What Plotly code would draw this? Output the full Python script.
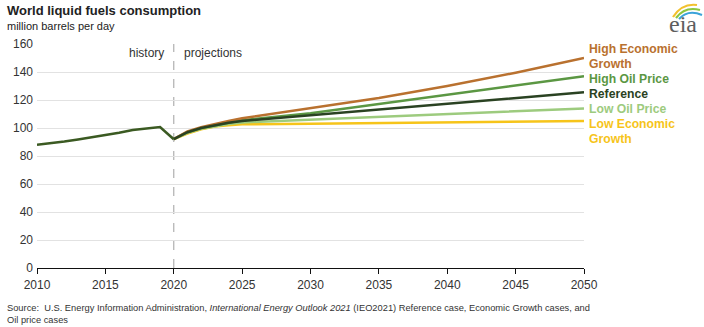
import plotly.graph_objects as go

# History (2010-2020), million barrels per day
hist_years = [2010, 2011, 2012, 2013, 2014, 2015, 2016, 2017, 2018, 2019, 2020]
hist_values = [88.0, 89.0, 90.3, 91.8, 93.3, 95.0, 96.6, 98.6, 99.7, 100.7, 92.0]

# Projection cases (2020-2050)
proj_years = [2020, 2021, 2022, 2023, 2024, 2025, 2030, 2035, 2040, 2045, 2050]
high_econ = [92.0, 97.5, 100.5, 103.0, 105.0, 107.0, 114.0, 121.5, 130.0, 139.5, 150.0]
high_oil = [92.0, 97.0, 100.0, 102.0, 104.0, 105.5, 110.5, 117.0, 123.5, 130.0, 137.0]
reference = [92.0, 97.0, 100.0, 102.0, 103.7, 105.0, 109.0, 113.0, 117.2, 121.3, 125.5]
low_oil = [92.0, 96.5, 99.5, 101.3, 102.8, 104.0, 106.0, 108.0, 110.0, 112.0, 114.0]
low_econ = [92.0, 96.0, 99.0, 101.0, 102.0, 102.6, 103.0, 103.5, 104.0, 104.5, 105.0]

series_names = ["Low Economic Growth", "Low Oil Price", "High Oil Price",
                "High Economic Growth", "Reference"]
series_values = [low_econ, low_oil, high_oil, high_econ, reference]
series_colors = ["#F6C41A", "#9DCB7E", "#5B9743", "#B9712F", "#2A4222"]

legend_lines = [
    ("High Economic", "#B9712F"),
    ("Growth", "#B9712F"),
    ("High Oil Price", "#5B9743"),
    ("Reference", "#2A4222"),
    ("Low Oil Price", "#9DCB7E"),
    ("Low Economic", "#F6C41A"),
    ("Growth", "#F6C41A"),
]

y_ticks = [0, 20, 40, 60, 80, 100, 120, 140, 160]
x_ticks = [2010, 2015, 2020, 2025, 2030, 2035, 2040, 2045, 2050]

W, H = 704, 327
ML, MR, MT, MB = 37, 120, 44, 59
PW, PH = W - ML - MR, H - MT - MB


def px(x):
    return (x - ML) / PW


def py(y):
    return (H - MB - y) / PH


FONT = "Liberation Sans, Arial, sans-serif"

fig = go.Figure()

for name, vals, col in zip(series_names, series_values, series_colors):
    fig.add_trace(go.Scatter(x=proj_years, y=vals, mode="lines", name=name,
                             line=dict(color=col, width=2.5), hoverinfo="skip"))

fig.add_trace(go.Scatter(x=hist_years, y=hist_values, mode="lines", name="History",
                         line=dict(color="#3B5A22", width=2.6), hoverinfo="skip"))

shapes = [
    dict(type="line", xref="x", yref="y", x0=2020, x1=2020, y0=0, y1=160,
         line=dict(color="#B0B0B0", width=1.2, dash="dash"), layer="below"),
]

# eia logo swooshes
logo_arcs = [
    ("#F2C12E", 673, 17, 682, 3, 697, 5),
    ("#8CC63F", 676, 18, 685, 6, 700, 10),
    ("#3AA3D9", 679, 19, 688, 9, 702, 15),
]
for col, x0, y0, cx, cy, x1, y1 in logo_arcs:
    shapes.append(dict(type="path", xref="paper", yref="paper",
                       path=f"M {px(x0)},{py(y0)} Q {px(cx)},{py(cy)} {px(x1)},{py(y1)}",
                       line=dict(color=col, width=2.2)))

annotations = [
    dict(text="<b>World liquid fuels consumption</b>", xref="paper", yref="paper",
         x=px(5), y=py(11), xanchor="left", yanchor="middle", showarrow=False,
         font=dict(family=FONT, size=13, color="#222222")),
    dict(text="million barrels per day", xref="paper", yref="paper",
         x=px(5), y=py(26), xanchor="left", yanchor="middle", showarrow=False,
         font=dict(family=FONT, size=11, color="#222222")),
    dict(text="history", xref="x", yref="paper", x=2019.4, y=py(53),
         xanchor="right", yanchor="middle", showarrow=False,
         font=dict(family=FONT, size=12, color="#333333")),
    dict(text="projections", xref="x", yref="paper", x=2020.6, y=py(53),
         xanchor="left", yanchor="middle", showarrow=False,
         font=dict(family=FONT, size=12, color="#333333")),
    dict(text="Source:  U.S. Energy Information Administration, <i>International Energy Outlook 2021</i> "
              "(IEO2021) Reference case, Economic Growth cases, and<br>Oil price cases",
         xref="paper", yref="paper", x=px(5), y=py(301), xanchor="left", yanchor="top",
         align="left", showarrow=False,
         font=dict(family=FONT, size=9.3, color="#333333")),
    dict(text="eia", xref="paper", yref="paper", x=px(683), y=py(24),
         xanchor="center", yanchor="middle", showarrow=False,
         font=dict(family="Liberation Serif, DejaVu Serif, serif", size=24, color="#5E5E5E")),
]

for i, (txt, col) in enumerate(legend_lines):
    annotations.append(dict(text=f"<b>{txt}</b>", xref="paper", yref="paper", x=px(587),
                            y=py(49 + 15 * i), xanchor="left", yanchor="middle",
                            showarrow=False,
                            font=dict(family=FONT, size=12.2, color=col)))

fig.update_layout(
    width=W, height=H,
    margin=dict(l=ML, r=MR, t=MT, b=MB),
    paper_bgcolor="white", plot_bgcolor="white",
    showlegend=False,
    shapes=shapes,
    annotations=annotations,
    font=dict(family=FONT, size=12, color="#333333"),
    xaxis=dict(range=[2010, 2050], tickvals=x_ticks, showgrid=False,
               showline=True, linecolor="#111111", linewidth=1.2,
               ticks="outside", ticklen=5, tickcolor="#111111",
               zeroline=False, fixedrange=True,
               tickfont=dict(family=FONT, size=12, color="#333333")),
    yaxis=dict(range=[0, 160], tickvals=y_ticks, showgrid=True,
               gridcolor="#E2E2E2", gridwidth=1, showline=False,
               zeroline=False, ticks="", ticklen=0, fixedrange=True,
               ticklabelstandoff=3,
               tickfont=dict(family=FONT, size=12, color="#333333")),
)

fig.write_html("out.html")
